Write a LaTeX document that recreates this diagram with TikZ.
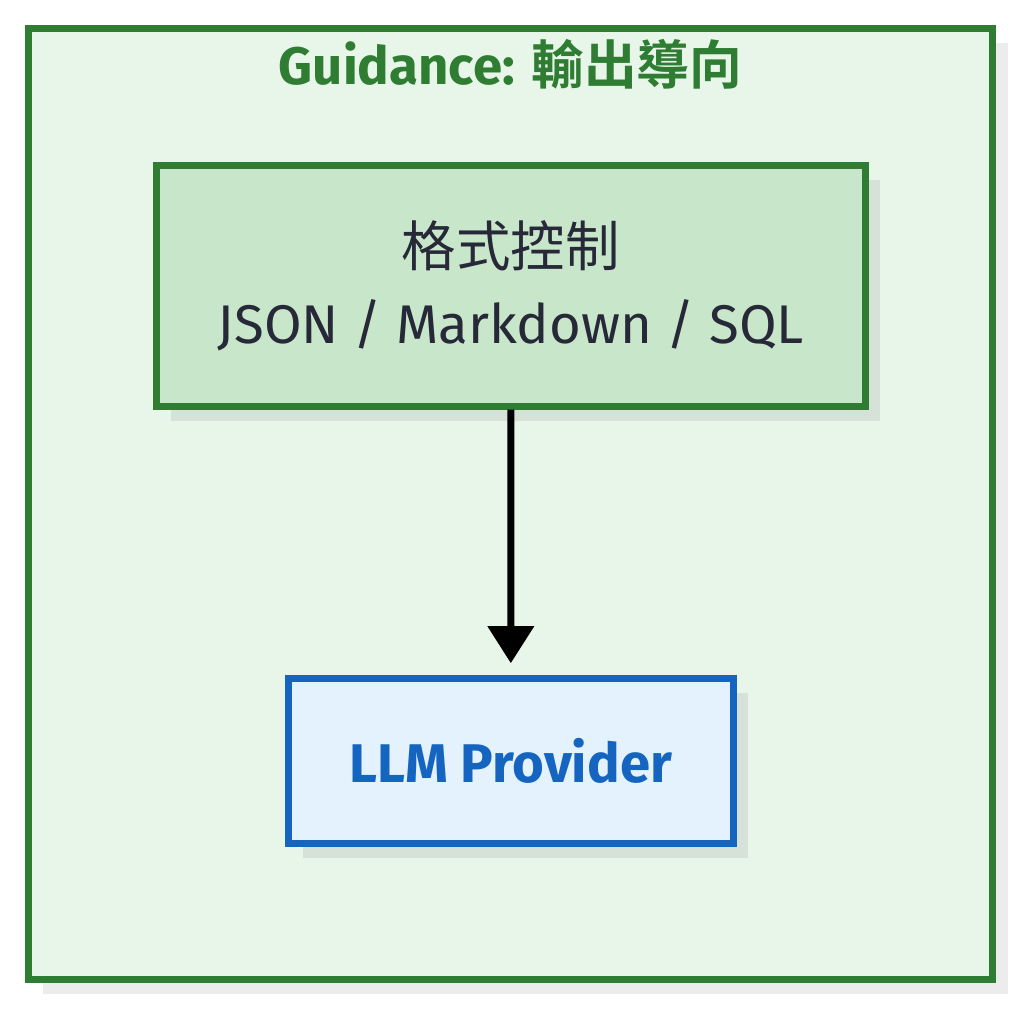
\documentclass[tikz,border=0pt]{standalone}
\usepackage{fontspec}
\setmainfont{Fira Sans}
\newfontfamily\cjk{Noto Sans CJK TC}[BoldFont={Noto Sans CJK TC Bold}]
\usetikzlibrary{arrows.meta,shadows,calc}
\definecolor{guidegreen}{HTML}{2E7D32}
\definecolor{guidefill}{HTML}{E8F5E9}
\definecolor{fmtfill}{HTML}{C8E6C9}
\definecolor{llmblue}{HTML}{1565C0}
\definecolor{llmfill}{HTML}{E3F2FD}
\definecolor{inktext}{HTML}{272838}
\tikzset{
  boxshadow/.style={
    drop shadow={shadow xshift=#1, shadow yshift=-#1, fill=black, opacity=0.075}
  },
  group/.style={
    draw=guidegreen,
    fill=guidefill,
    line width=0.07cm,
    inner sep=0,
    minimum width=9.642cm,
    minimum height=9.51cm,
    boxshadow=0.15cm
  },
  fmtbox/.style={
    draw=guidegreen,
    fill=fmtfill,
    line width=0.07cm,
    inner sep=0,
    minimum width=7.093cm,
    minimum height=2.404cm,
    align=center,
    text=inktext,
    font=\fontsize{15.5}{22}\selectfont,
    boxshadow=0.145cm
  },
  llmbox/.style={
    draw=llmblue,
    fill=llmfill,
    line width=0.07cm,
    inner sep=0,
    minimum width=4.447cm,
    minimum height=1.647cm,
    text=llmblue,
    font=\fontsize{15.5}{18}\selectfont\bfseries,
    boxshadow=0.145cm
  },
  flow/.style={
    line width=0.07cm,
    -{Triangle[width=0.45cm,length=0.37cm]},
    shorten >=0.117cm
  }
}
\begin{document}
\begin{tikzpicture}
  \useasboundingbox (0,0) rectangle (10.24,10.11);
  \node[group] (guide) at (5.106,5.07) {};
  \node[text=guidegreen,font=\fontsize{15}{18}\selectfont\bfseries]
    (title) at ($(guide.north)+(0,-0.39)$) {Guidance: {\cjk 輸出導向}};
  \node[fmtbox] (fmt) at (5.109,7.25) {{\cjk 格式控制}\\JSON / Markdown / SQL};
  \node[llmbox] (llm) at (5.108,2.502) {LLM Provider};
  \draw[flow] (fmt) -- (llm);
\end{tikzpicture}
\end{document}
